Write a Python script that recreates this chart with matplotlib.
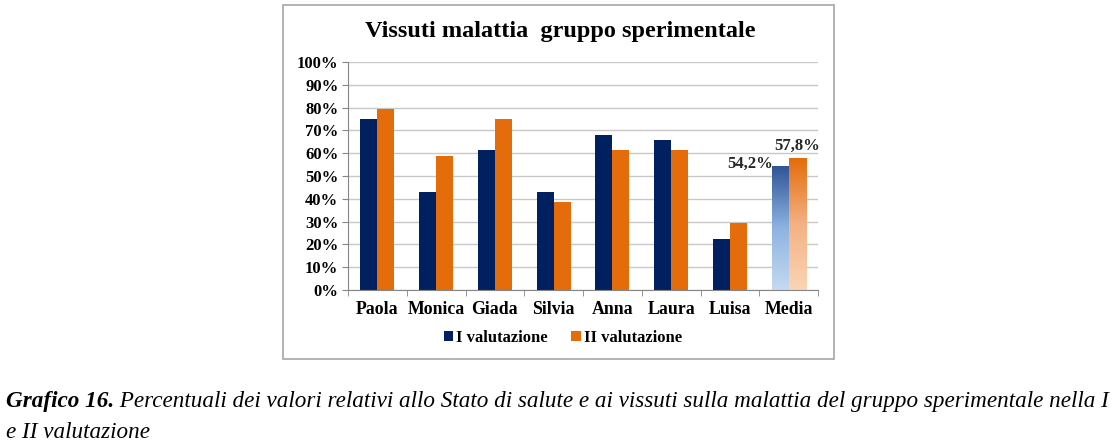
import matplotlib.pyplot as plt
import numpy as np
from matplotlib.colors import LinearSegmentedColormap
from matplotlib.patches import Rectangle

categories = ['Paola', 'Monica', 'Giada', 'Silvia', 'Anna', 'Laura', 'Luisa', 'Media']
val_1 = [74.8, 42.9, 61.3, 43.0, 67.8, 65.6, 22.4, 54.2]
val_2 = [79.5, 58.7, 75.0, 38.4, 61.2, 61.2, 29.4, 57.8]
series_names = ['I valutazione', 'II valutazione']
title = 'Vissuti malattia  gruppo sperimentale'
caption_bold = 'Grafico 16.'
caption_rest = (' Percentuali dei valori relativi allo Stato di salute e ai vissuti sulla malattia '
                'del gruppo sperimentale nella I')
caption_line2 = 'e II valutazione'

navy = '#002060'
orange = '#E46C0A'
serif = ['Liberation Serif', 'DejaVu Serif']

W, H = 1120, 442
fig = plt.figure(figsize=(W / 100, H / 100), dpi=100)

# chart frame
frame = Rectangle((283 / W, 1 - 359 / H), (834 - 283) / W, (359 - 5) / H,
                  transform=fig.transFigure, facecolor='white', edgecolor='#a6a6a6',
                  linewidth=1.2, zorder=-10)
fig.patches.append(frame)

ax = fig.add_axes([348 / W, 1 - 290 / H, (818 - 348) / W, (290 - 62) / H])
ax.set_zorder(5)
x = np.arange(len(categories))
w = 0.29
b1 = ax.bar(x - w / 2, val_1, w, color=navy, label=series_names[0], zorder=2)
b2 = ax.bar(x + w / 2, val_2, w, color=orange, label=series_names[1], zorder=2)

# gradient for the "Media" bars
grad_specs = [(b1[-1], ['#c6d9f1', '#8db3e2', '#2f5597']),
              (b2[-1], ['#fbd5b5', '#f4b183', '#e46c0a'])]
for bar, cols in grad_specs:
    bar.set_facecolor('none')
    cmap = LinearSegmentedColormap.from_list('g', cols)
    x0, y0 = bar.get_x(), bar.get_y()
    bw, bh = bar.get_width(), bar.get_height()
    grad = np.linspace(0, 1, 256).reshape(-1, 1)
    im = ax.imshow(grad, cmap=cmap, origin='lower', aspect='auto',
                   extent=(x0, x0 + bw, y0, y0 + bh), zorder=2)
    im.set_clip_path(bar)

ax.text(x[-1] - w + 0.02, val_1[-1] + 1.3, '54,2%', ha='right', va='center',
        fontsize=12, fontweight='bold', family=serif, color='#262626', zorder=4)
ax.text(x[-1] + w / 2, val_2[-1] + 5.5, '57,8%', ha='center', va='center',
        fontsize=12, fontweight='bold', family=serif, color='#262626', zorder=4)

ax.set_xlim(-0.5, len(categories) - 0.5)
ax.set_ylim(0, 100)
ax.set_yticks(np.arange(0, 101, 10))
ax.set_yticklabels([f'{v}%' for v in range(0, 101, 10)], family=serif,
                   fontweight='bold', fontsize=12)
ax.set_xticks(x)
ax.set_xticklabels(categories, family=serif, fontweight='bold', fontsize=12.8)
ax.set_xticks(np.arange(-0.5, len(categories)), minor=True)
ax.tick_params(axis='x', which='major', length=0, pad=8)
ax.tick_params(axis='x', which='minor', length=4, color='#868686')
ax.tick_params(axis='y', length=4, color='#868686', pad=3)
ax.grid(axis='y', color='#c8c8c8', linewidth=1, zorder=0)
ax.set_axisbelow(True)
for s in ['top', 'right']:
    ax.spines[s].set_visible(False)
for s in ['left', 'bottom']:
    ax.spines[s].set_color('#868686')
ax.patch.set_alpha(0)

leg = fig.legend(handles=[b1, b2], labels=series_names, loc='center',
                 bbox_to_anchor=(563 / W, 1 - 338 / H), ncol=2, frameon=False,
                 prop={'family': serif, 'weight': 'bold', 'size': 12},
                 handlelength=0.55, handleheight=0.55, handletextpad=0.2, columnspacing=1.4)
leg.legend_handles[1].set_facecolor(orange)

fig.text(560 / W, 1 - 31 / H, title, ha='center', va='center', fontsize=17.5,
         fontweight='bold', family=serif)

cap_size = 16.7
t = fig.text(6 / W, 1 - 401 / H, caption_bold, ha='left', va='center', fontsize=cap_size,
             fontweight='bold', fontstyle='italic', family=serif)
fig.canvas.draw()
bb = t.get_window_extent()
fig.text(bb.x1 / W, 1 - 401 / H, caption_rest, ha='left', va='center', fontsize=cap_size,
         fontstyle='italic', family=serif)
fig.text(6 / W, 1 - 432 / H, caption_line2, ha='left', va='center', fontsize=cap_size,
         fontstyle='italic', family=serif)

fig.savefig('out.png', dpi=100)
